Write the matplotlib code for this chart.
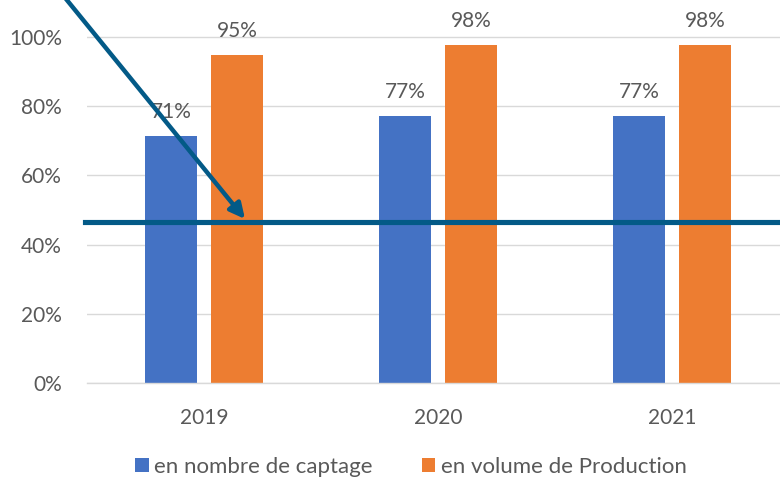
import matplotlib
matplotlib.use("Agg")
import matplotlib.pyplot as plt
import numpy as np

years = ["2019", "2020", "2021"]
captage = [0.714, 0.772, 0.772]
production = [0.948, 0.977, 0.977]
captage_labels = ["71%", "77%", "77%"]
production_labels = ["95%", "98%", "98%"]
threshold = 0.465
yticks = [0, 0.2, 0.4, 0.6, 0.8, 1.0]
ytick_labels = ["0%", "20%", "40%", "60%", "80%", "100%"]

plt.rcParams['font.family'] = ['Lato', 'DejaVu Sans']
W, H = 780, 479
fig = plt.figure(figsize=(W/100, H/100), dpi=100)
ax = fig.add_axes([87/W, 1-383/H, 702/W, 383/H])

blue = "#4472C4"
orange = "#ED7D31"
txt = "#595959"
x = np.arange(len(years))
bw = 0.222
off = 0.141
b1 = ax.bar(x - off, captage, bw, color=blue, label="en nombre de captage", zorder=2)
b2 = ax.bar(x + off, production, bw, color=orange, label="en volume de Production", zorder=2)

for xi, v, lab in zip(x - off, captage, captage_labels):
    ax.annotate(lab, (xi, v), xytext=(0, 17.5), textcoords="offset points",
                ha="center", va="center", fontsize=15, color=txt, zorder=3)
for xi, v, lab in zip(x + off, production, production_labels):
    ax.annotate(lab, (xi, v), xytext=(0, 17.5), textcoords="offset points",
                ha="center", va="center", fontsize=15, color=txt, zorder=3)

ax.set_xlim(-0.5, 2.5)
ax.set_ylim(0, 383/346)
ax.set_yticks(yticks)
ax.set_yticklabels(ytick_labels)
ax.set_xticks(x)
ax.set_xticklabels(years)
ax.tick_params(axis='both', length=0, labelsize=15, labelcolor=txt)
ax.tick_params(axis='x', pad=18)
ax.tick_params(axis='y', pad=18)
for s in ["top", "right", "left"]:
    ax.spines[s].set_visible(False)
ax.spines["bottom"].set_color("#D9D9D9")
ax.spines["bottom"].set_linewidth(1)
ax.grid(axis='y', color="#D9D9D9", linewidth=1, zorder=0)
ax.set_axisbelow(True)

line_color = "#035A87"
ax.axhline(threshold, xmin=-2/702, xmax=1, color=line_color, linewidth=3.7, zorder=4, clip_on=False)

tip_x = (245-87)/234 - 0.5
tip_y = (383-219)/346
ax.annotate("", xy=(tip_x, tip_y), xycoords="data",
            xytext=(62/W, 1+6/H), textcoords="figure fraction",
            arrowprops=dict(arrowstyle="-|>,head_length=0.9,head_width=0.45",
                            color=line_color, lw=3.2, shrinkA=0, shrinkB=0),
            annotation_clip=False, zorder=5)

leg = fig.legend(handles=[b1, b2], loc="center", bbox_to_anchor=(411/W, 1-467/H),
                 ncol=2, frameon=False, fontsize=16, labelcolor=txt,
                 handlelength=0.6, handleheight=0.6, handletextpad=0.25, columnspacing=2.2)

fig.savefig("out.png", dpi=100)
